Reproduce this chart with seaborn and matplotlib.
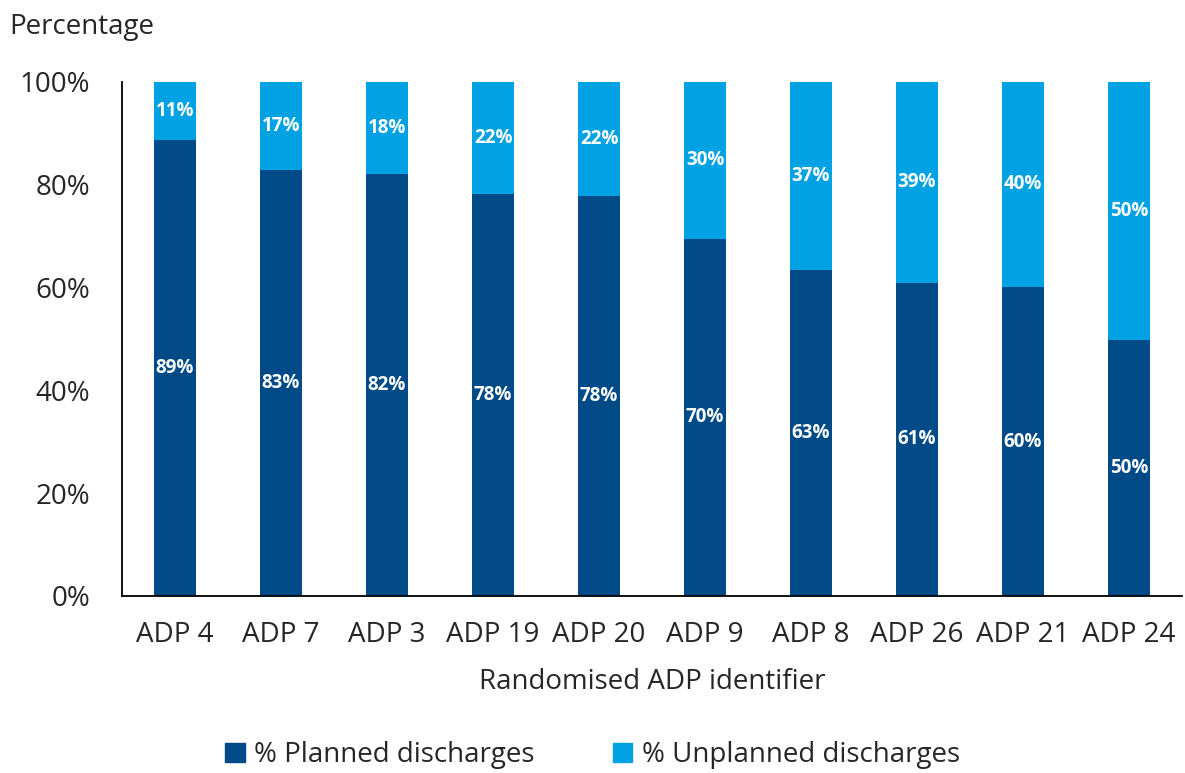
import matplotlib
matplotlib.use("Agg")
import matplotlib.pyplot as plt
import seaborn as sns
import pandas as pd
from matplotlib.patches import Patch

# values
adp_ids = ["ADP 4", "ADP 7", "ADP 3", "ADP 19", "ADP 20",
           "ADP 9", "ADP 8", "ADP 26", "ADP 21", "ADP 24"]
planned = [88.7, 82.9, 82.1, 78.2, 77.8, 69.5, 63.4, 60.9, 60.1, 49.8]
unplanned = [11.3, 17.1, 17.9, 21.8, 22.2, 30.5, 36.6, 39.1, 39.9, 50.2]

DARK = "#004A87"
LIGHT = "#00A2E3"

sns.set_style("white")
plt.rcParams["font.family"] = ["Open Sans", "DejaVu Sans"]

df = pd.DataFrame({"adp": adp_ids, "planned": planned, "unplanned": unplanned})
df["total"] = df["planned"] + df["unplanned"]

fig = plt.figure(figsize=(11.85, 7.73), dpi=100)
ax = fig.add_axes([0.103, 0.229, 0.8945, 0.665])

sns.barplot(data=df, x="adp", y="total", color=LIGHT, width=0.4,
            saturation=1, linewidth=0, ax=ax)
sns.barplot(data=df, x="adp", y="planned", color=DARK, width=0.4,
            saturation=1, linewidth=0, ax=ax)

for i, row in df.iterrows():
    ax.text(i, row["planned"] / 2, f"{row['planned']:.0f}%", ha="center",
            va="center", color="white", fontsize=13.5, fontweight="bold")
    ax.text(i, row["planned"] + row["unplanned"] / 2, f"{row['unplanned']:.0f}%",
            ha="center", va="center", color="white", fontsize=13.5, fontweight="bold")

ax.set_xlim(-0.5, len(adp_ids) - 0.5)
ax.set_ylim(0, 100)
ax.set_yticks([0, 20, 40, 60, 80, 100])
ax.set_yticklabels([f"{v}%" for v in [0, 20, 40, 60, 80, 100]])
ax.tick_params(axis="both", length=0, labelsize=20)
ax.tick_params(axis="y", pad=23)
ax.tick_params(axis="x", pad=18)
ax.set_ylabel("")
ax.set_xlabel("Randomised ADP identifier", fontsize=20, labelpad=14)

for s in ["top", "right"]:
    ax.spines[s].set_visible(False)
for s in ["left", "bottom"]:
    ax.spines[s].set_color("black")
    ax.spines[s].set_linewidth(1.3)

fig.text(0.008, 1 - 27 / 773, "Percentage", fontsize=20, va="center", ha="left")

handles = [Patch(color=DARK, label="% Planned discharges"),
           Patch(color=LIGHT, label="% Unplanned discharges")]
fig.legend(handles=handles, loc="center", bbox_to_anchor=(0.5, 1 - 755 / 773),
           ncol=2, frameon=False, fontsize=20, handlelength=0.7,
           handleheight=0.7, handletextpad=0.35, columnspacing=2.8)

fig.savefig("out.png", dpi=100)
